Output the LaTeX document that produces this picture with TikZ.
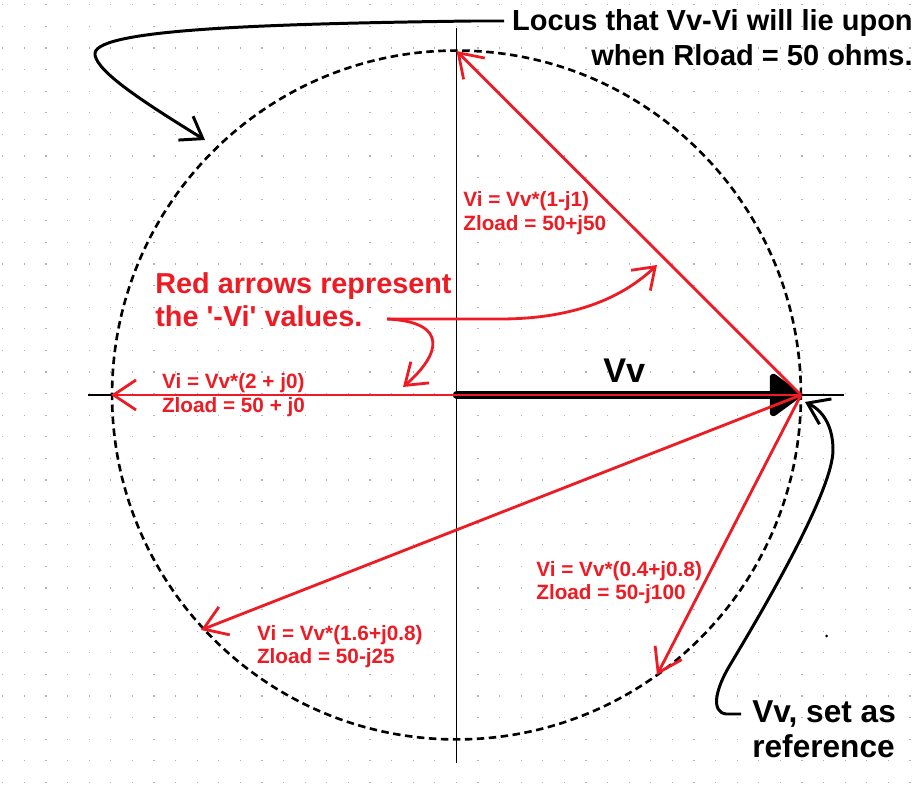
\documentclass[tikz,border=0pt]{standalone}
\usepackage{fontspec}
\setmainfont{Liberation Sans}
\usepackage{tikz}
\usetikzlibrary{arrows.meta}
\definecolor{paintRed}{RGB}{237, 28, 36}
\definecolor{gridDot}{RGB}{178,174,204}

\begin{document}
\begin{tikzpicture}[x=0.02cm, y=-0.02cm,
    axis/.style={line width=0.6pt},
    locusline/.style={line width=1.5pt, dash pattern=on 0.15cm off 0.09cm},
    redvec/.style={draw=paintRed, line width=1.6pt, -{Straight Barb[length=0.45cm, width=0.6cm]}},
    callout/.style={line width=1.7pt, -{Straight Barb[length=0.4cm, width=0.56cm]}},
    redcall/.style={callout, draw=paintRed, line width=1.6pt},
    redlbl/.style={text=paintRed, font=\fontsize{11.8}{13.3}\selectfont\bfseries, align=left, inner sep=0pt, anchor=north west},
    bigtxt/.style={font=\fontsize{16.5}{19.9}\selectfont\bfseries, inner sep=0pt}
  ]
  \useasboundingbox (0,0) rectangle (921,790);
  \fill[white] (0,0) rectangle (921,790);
  % dotted paper
  \foreach \i in {0,...,42} \foreach \j in {0,...,36} {
    \fill[gridDot] (2.2+21.6*\i, 5.5+21.6*\j) rectangle ++(1.2,-1.2);
  }
  % axes
  \coordinate (axTop) at (456.5,28);
  \coordinate (axBot) at (456.5,763);
  \coordinate (axL) at (88,395);
  \coordinate (axR) at (844,395);
  \draw[axis] (axTop) -- (axBot);
  \draw[axis] (axL) -- (axR);
  % the locus circle
  \coordinate (O) at (456.5,395);
  \draw[locusline] (O) circle[radius=6.89cm];
  % Vv and the tips of -Vi
  \coordinate (Vtip) at (801,395);
  \coordinate (tipA) at (456.5,51);
  \coordinate (tipB) at (111,395);
  \coordinate (tipC) at (201,630);
  \coordinate (tipD) at (657,675);
  \draw[line width=4.2pt, line cap=round, -{Triangle[length=0.68cm, width=0.95cm, round]}] (O) -- (Vtip);
  \foreach \t in {tipA,tipB,tipC,tipD}
    \draw[redvec] (Vtip) -- (\t);
  \node[font=\fontsize{19.5}{22}\selectfont\bfseries, inner sep=0pt, anchor=base west] (vvLbl) at (603,383) {Vv};
  % labels of the red arrows
  \node[redlbl] (lblA) at (463,191.5) {Vi = Vv*(1-j1)\\Zload = 50+j50};
  \node[redlbl] (lblB) at (161.7,373.3) {Vi = Vv*(2 + j0)\\Zload = 50 + j0};
  \node[redlbl] (lblC) at (256.7,625) {Vi = Vv*(1.6+j0.8)\\Zload = 50-j25};
  \node[redlbl] (lblD) at (536,560.7) {Vi = Vv*(0.4+j0.8)\\Zload = 50-j100};
  % red note
  \node[bigtxt, text=paintRed, align=left, anchor=north west, font=\fontsize{16.4}{18.9}\selectfont\bfseries] (redNote) at (155,272) {Red arrows represent\\the \textquotesingle-Vi\textquotesingle{} values.};
  \coordinate (noteFoot) at (387,319);
  \coordinate (noteTipA) at (657,265);
  \coordinate (noteTipB) at (403,387);
  \draw[redcall] (noteFoot) -- (500,319) .. controls (570,319) and (620,300) .. (noteTipA);
  \draw[redcall] (noteFoot) .. controls (450,322) and (440,355) .. (noteTipB);
  % locus note
  \node[bigtxt, align=right, anchor=north east] (locus) at (913,9) {Locus that Vv-Vi will lie upon\\when Rload = 50 ohms.};
  \coordinate (locusFoot) at (504,21);
  \coordinate (locusTip) at (205,140);
  \draw[callout] (locusFoot) -- (472,21) .. controls (250,24) and (90,30) .. (95,55)
    .. controls (98,72) and (140,100) .. (locusTip);
  % reference note
  \node[font=\fontsize{18}{20.2}\selectfont\bfseries, inner sep=0pt, align=left, anchor=north west] (refLbl) at (752,700) {Vv, set as\\reference};
  \coordinate (refFoot) at (741,714);
  \coordinate (refTip) at (805,402);
  \draw[callout] (refFoot) -- (726,714) .. controls (711,712) and (715,690) .. (730,665)
    .. controls (766,605) and (833,490) .. (833,450)
    .. controls (833,425) and (822,410) .. (refTip);
  \fill (826.5,636) circle[radius=0.03cm];
\end{tikzpicture}
\end{document}
